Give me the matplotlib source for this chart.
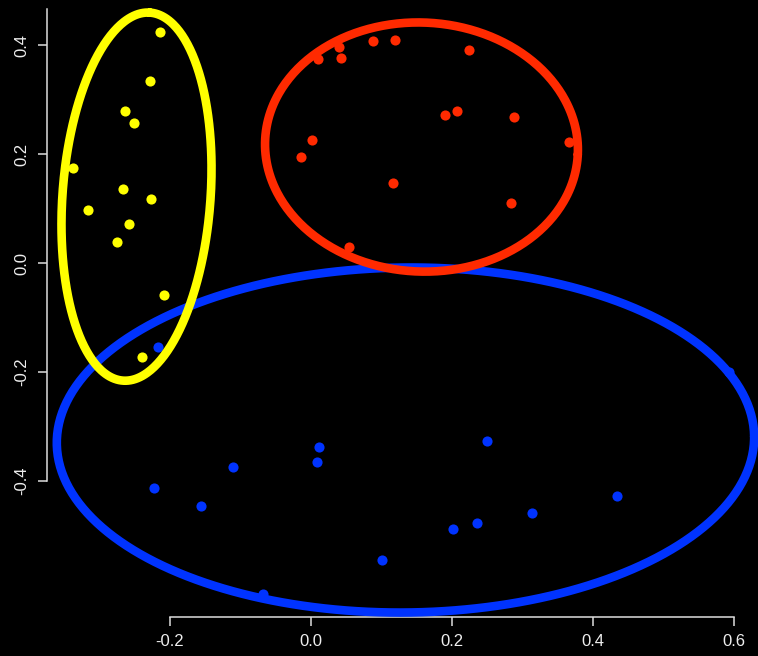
import numpy as np
import matplotlib
matplotlib.use("Agg")
import matplotlib.pyplot as plt

# ---- data ----
yellow_x = [-0.214, -0.228, -0.264, -0.251, -0.337, -0.267, -0.227, -0.316, -0.258, -0.275, -0.209, -0.239]
yellow_y = [0.423, 0.334, 0.279, 0.256, 0.175, 0.136, 0.117, 0.097, 0.072, 0.038, -0.058, -0.172]

red_x = [0.040, 0.0095, 0.042, 0.088, 0.119, 0.224, 0.1905, 0.207, 0.2875, 0.366, 0.0018, -0.0142, 0.1163, 0.2837, 0.0544]
red_y = [0.396, 0.375, 0.377, 0.408, 0.409, 0.391, 0.2716, 0.2795, 0.268, 0.2226, 0.226, 0.194, 0.147, 0.1107, 0.030]

blue_x = [-0.217, -0.2227, -0.156, -0.111, 0.0109, 0.009, -0.0676, 0.1003, 0.2496, 0.201, 0.235, 0.3135, 0.434, 0.5934]
blue_y = [-0.154, -0.4135, -0.446, -0.374, -0.3376, -0.3657, -0.608, -0.545, -0.3266, -0.4887, -0.477, -0.458, -0.427, -0.2006]

# ellipses: centre (data), semi-axes (screen px), rotation (deg, screen space)
ell_yellow = dict(cx=-0.2475, cy=0.1218, a=184.5, b=74.0, ang=85.8)
ell_red = dict(cx=0.1567, cy=0.2128, a=156.5, b=124.5, ang=-2.7)
ell_blue = dict(cx=0.134, cy=-0.3248, a=348.7, b=172.5, ang=0.6)

x_ticks = [-0.2, 0.0, 0.2, 0.4, 0.6]
y_ticks = [-0.4, -0.2, 0.0, 0.2, 0.4]

YELLOW = "#FFFF00"
RED = "#FF2A00"
BLUE = "#0033FF"
AXCOL = "#DDDDDD"

W, H, DPI = 758, 656, 100
fig = plt.figure(figsize=(W / DPI, H / DPI), dpi=DPI, facecolor="black")
ax = fig.add_axes([0, 0, 1, 1], facecolor="black")
xlim = (-0.4411, 0.6340)
ylim = (-0.7211, 0.4826)
ax.set_xlim(*xlim)
ax.set_ylim(*ylim)

px_x = W / (xlim[1] - xlim[0])
px_y = H / (ylim[1] - ylim[0])


def ellipse(e):
    t = np.linspace(0, 2 * np.pi, 400)
    th = np.deg2rad(e["ang"])
    dx = e["a"] * np.cos(t) * np.cos(th) - e["b"] * np.sin(t) * np.sin(th)
    dy = e["a"] * np.cos(t) * np.sin(th) + e["b"] * np.sin(t) * np.cos(th)
    return e["cx"] + dx / px_x, e["cy"] + dy / px_y


ms = 7.3
ax.plot(yellow_x, yellow_y, "o", color=YELLOW, ms=ms, mec="none", zorder=3)
ax.plot(red_x, red_y, "o", color=RED, ms=ms, mec="none", zorder=3)
ax.plot(blue_x, blue_y, "o", color=BLUE, ms=ms, mec="none", zorder=3)

lw = 6.2
for e, c, z in [(ell_blue, BLUE, 4), (ell_red, RED, 5), (ell_yellow, YELLOW, 6)]:
    ex, ey = ellipse(e)
    ax.plot(ex, ey, color=c, lw=lw, zorder=z, solid_capstyle="round")

# R-style axes
for s in ["top", "right"]:
    ax.spines[s].set_visible(False)
ax.spines["left"].set_position(("data", (47.3 - 0) / px_x + xlim[0]))
ax.spines["left"].set_bounds(-0.4, ylim[1] - 9.3 / px_y)
ax.spines["bottom"].set_position(("data", ylim[1] - 617 / px_y))
ax.spines["bottom"].set_bounds(-0.2, 0.6)
for s in ["left", "bottom"]:
    ax.spines[s].set_color(AXCOL)
    ax.spines[s].set_linewidth(1.1)

ax.set_xticks(x_ticks)
ax.set_xticklabels([f"{v:.1f}" for v in x_ticks])
ax.set_yticks(y_ticks)
ax.set_yticklabels([f"{v:.1f}" for v in y_ticks], rotation=90, va="center")
ax.tick_params(axis="both", colors=AXCOL, direction="out", length=6.5, width=1.1,
               labelsize=12, labelcolor="#EEEEEE")
ax.tick_params(axis="x", pad=5.5)
ax.tick_params(axis="y", pad=6.5)
for lab in ax.get_xticklabels() + ax.get_yticklabels():
    lab.set_family(["Liberation Sans", "DejaVu Sans"])

fig.savefig("out.png", dpi=DPI, facecolor="black")
